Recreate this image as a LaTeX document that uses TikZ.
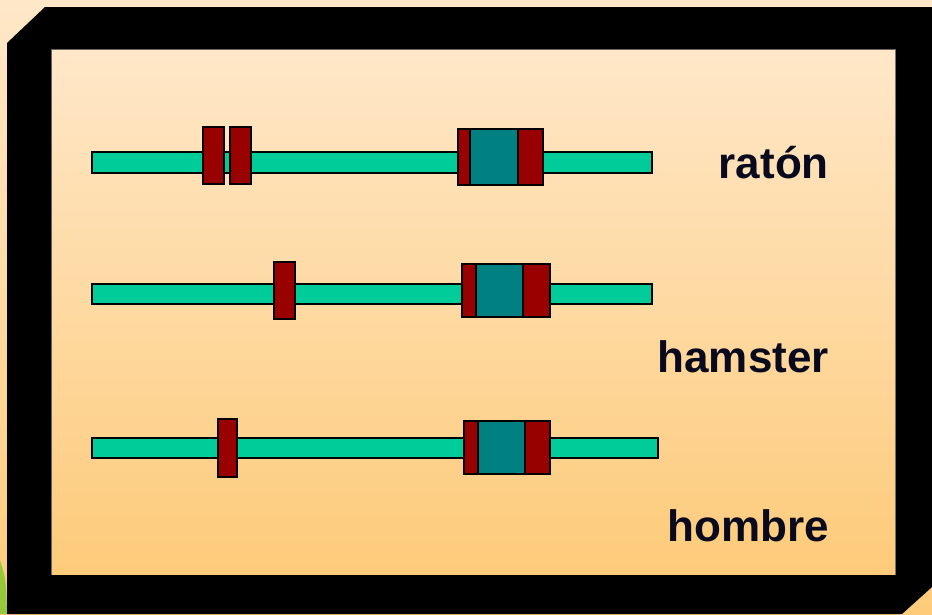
\documentclass[tikz,border=0pt]{standalone}
\usepackage{fontspec}
\setmainfont{Liberation Sans}
\definecolor{bgtop}{RGB}{255,231,200}
\definecolor{bgbot}{RGB}{253,203,122}
\definecolor{strand}{RGB}{0,204,153}
\definecolor{exon}{RGB}{153,0,0}
\definecolor{tealbox}{RGB}{0,128,128}
\definecolor{leaf}{RGB}{150,200,60}
\definecolor{txt}{RGB}{10,10,30}
\tikzset{
  outl/.style={draw=black, line width=1.5pt},
  strandbar/.style={outl, fill=strand},
  redbox/.style={outl, fill=exon},
  tealpart/.style={outl, fill=tealbox},
  lbl/.style={anchor=base east, font=\bfseries\fontsize{44}{44}\selectfont, text=txt, inner sep=0pt}
}
\begin{document}
\begin{tikzpicture}[x=1pt,y=-1pt]
\useasboundingbox (0,0) rectangle (932,614);
% background
\shade[top color=bgtop, bottom color=bgbot] (0,0) rectangle (932,614);
\fill[leaf] (0,560) .. controls (6,580) .. (7,614) -- (0,614) -- cycle;
% frame
\fill[black] (7,43) -- (45,7) -- (932,7) -- (932,587) -- (902,614) -- (7,614) -- cycle;
\fill[black!60] (51,49) rectangle (896,575);
\shade[top color=bgtop, bottom color=bgbot] (52,50) rectangle (895,574);
% row 1
\draw[strandbar] (92,152) rectangle (652,173);
\draw[redbox] (203,127) rectangle (224,184);
\draw[redbox] (230,127) rectangle (251,184);
\draw[redbox] (458,129) rectangle (543,185);
\draw[tealpart] (470,129) rectangle (518,185);
% row 2
\draw[strandbar] (92,284) rectangle (652,304);
\draw[redbox] (274,262) rectangle (295,319);
\draw[redbox] (462,264) rectangle (550,317);
\draw[tealpart] (476,264) rectangle (523,317);
% row 3
\draw[strandbar] (92,438) rectangle (658,458);
\draw[redbox] (218,419) rectangle (237,477);
\draw[redbox] (464,421) rectangle (550,474);
\draw[tealpart] (478,421) rectangle (525,474);
% labels
\node[lbl] (raton) at (829,178) {ratón};
\node[lbl] (hamster) at (829,372) {hamster};
\node[lbl] (hombre) at (829,541) {hombre};
\end{tikzpicture}
\end{document}
